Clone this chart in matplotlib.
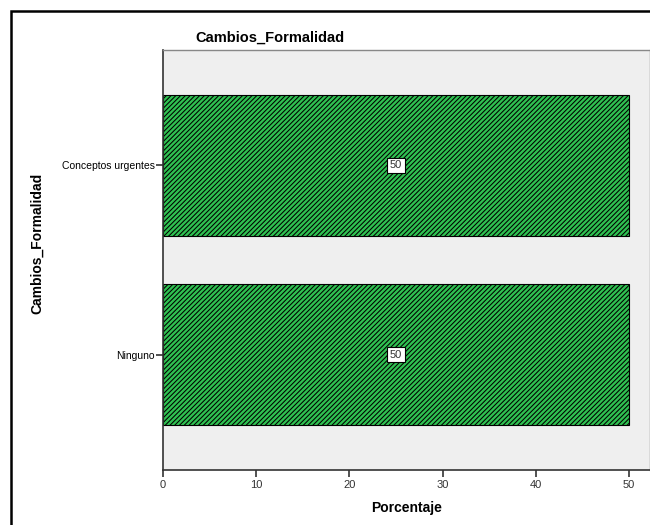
import matplotlib
matplotlib.use('Agg')
import matplotlib.pyplot as plt
from matplotlib.patches import Rectangle

# Datos del gráfico
categorias = ['Ninguno', 'Conceptos urgentes']
porcentajes = [50, 50]
xticks = [0, 10, 20, 30, 40, 50]

plt.rcParams['font.family'] = ['Liberation Sans', 'DejaVu Sans']
plt.rcParams['hatch.linewidth'] = 0.75

fig = plt.figure(figsize=(6.5, 5.25), dpi=100)
ax = fig.add_axes([163 / 650, 55 / 525, 487 / 650, 420 / 525])
ax.set_facecolor('#efefef')

y = list(range(len(categorias)))
bars = ax.barh(y, porcentajes, height=0.746, color='#2fc151',
               edgecolor='black', hatch='///////', linewidth=0.8, zorder=2)

# Etiquetas de valor en el centro de cada barra
for yi, v in zip(y, porcentajes):
    ax.text(v / 2, yi, f'{v}', ha='center', va='center', fontsize=8,
            color='#333333', zorder=3,
            bbox=dict(boxstyle='square,pad=0.25', facecolor='white',
                      edgecolor='black', linewidth=0.8))

ax.set_xlim(0, 52.25)
ax.set_ylim(-0.61, 1.61)
ax.set_yticks(y)
ax.set_yticklabels(categorias, fontsize=7.5)
ax.set_xticks(xticks)
ax.set_xticklabels([str(t) for t in xticks], fontsize=8, color='#333333')
ax.tick_params(axis='both', direction='out', length=5, width=1.2, color='#333333')
ax.tick_params(axis='y', pad=1)
ax.tick_params(axis='x', pad=2)

for side in ['top', 'right']:
    ax.spines[side].set_color('#888888')
    ax.spines[side].set_linewidth(1.0)
for side in ['left', 'bottom']:
    ax.spines[side].set_color('#333333')
    ax.spines[side].set_linewidth(1.2)

ax.set_xlabel('Porcentaje', fontsize=10, fontweight='bold', labelpad=8)
fig.text(37 / 650, 1 - 243 / 525, 'Cambios_Formalidad', rotation=90,
         ha='center', va='center', fontsize=10, fontweight='bold')
fig.text(270 / 650, 1 - 38 / 525, 'Cambios_Formalidad', ha='center',
         va='center', fontsize=10.5, fontweight='bold')

# Marco exterior
fig.patches.append(Rectangle((11 / 650, -0.05), 1.2, 1 - 11 / 525 + 0.05,
                             transform=fig.transFigure, fill=False,
                             edgecolor='black', linewidth=1.8))

fig.savefig('out.png', dpi=100)
